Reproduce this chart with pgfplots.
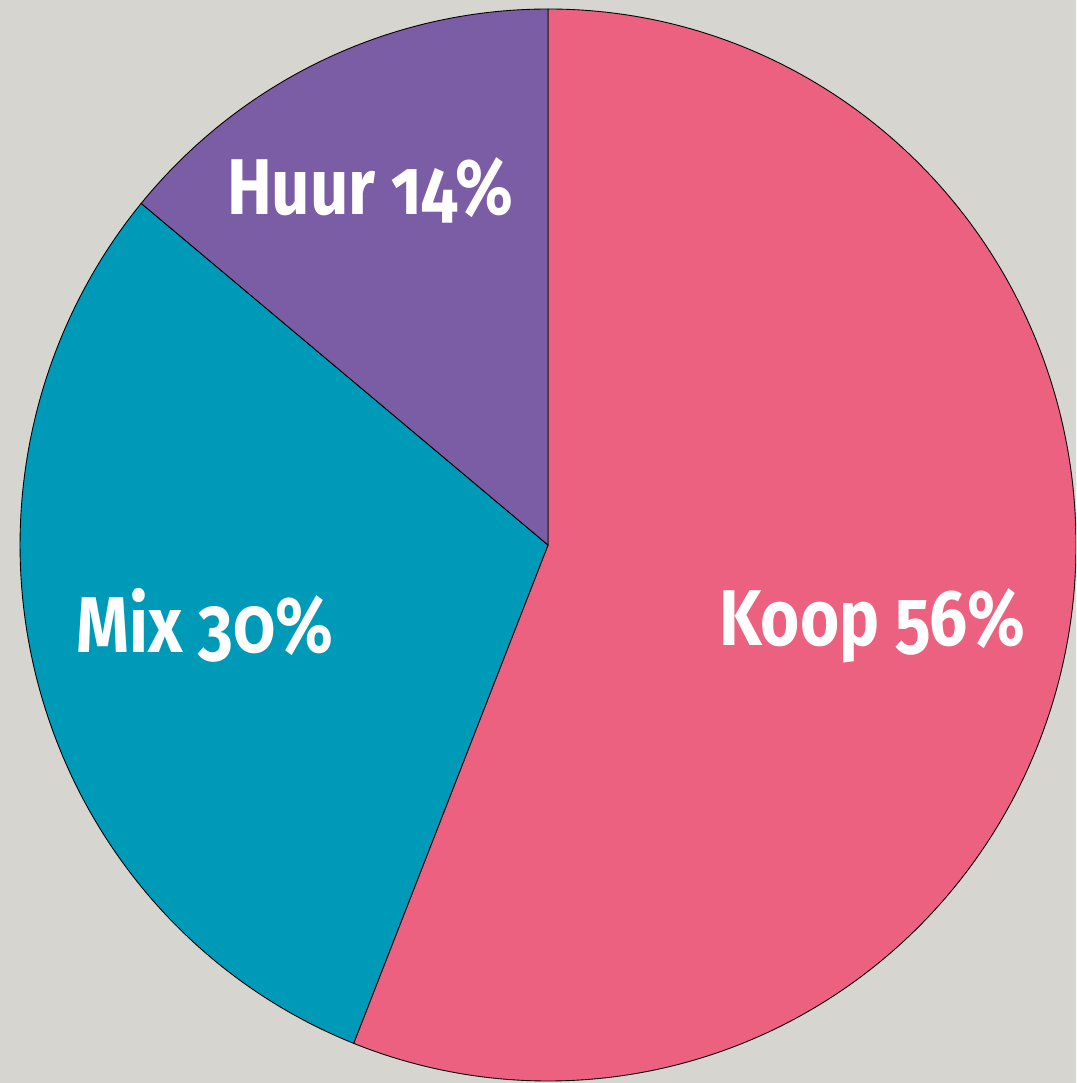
\documentclass[border=0pt]{standalone}
\usepackage{pgfplots}
\pgfplotsset{compat=1.18}
\usepackage{pgfplotstable}
\usepackage{fontspec}
\setmainfont{Fira Sans}[Numbers=OldStyle]
\definecolor{bg}{HTML}{D6D5D0}
\definecolor{koop}{HTML}{EC617F}
\definecolor{mix}{HTML}{009AB9}
\definecolor{huur}{HTML}{7B5DA6}

\pgfplotstableread{
label value colour
Koop 56 koop
Mix 30 mix
Huur 14 huur
}\piedata

\newcommand{\lbl}[1]{\scalebox{0.85}[1]{#1}}

\begin{document}
\begin{tikzpicture}
\def\RX{10.56cm}
\def\RY{10.72cm}
\begin{axis}[
  x=\RX, y=\RY,
  hide axis,
  xmin=-1.0379, xmax=1.0,
  ymin=-1.0037, ymax=1.0168,
  scale only axis,
]
\fill[bg] (axis cs:-1.1,-1.1) rectangle (axis cs:1.1,1.1);
\def\cum{0}
\pgfplotsforeachungrouped \i in {0,1,2}{%
  \pgfplotstablegetelem{\i}{value}\of\piedata
  \let\v\pgfplotsretval
  \pgfplotstablegetelem{\i}{colour}\of\piedata
  \let\c\pgfplotsretval
  \pgfmathsetmacro\sa{90-3.6*\cum}
  \pgfmathsetmacro\ea{\sa-3.6*\v}
  \pgfmathsetmacro\cum{\cum+\v}
  \edef\cmd{\noexpand\filldraw[fill=\c, draw=black, line width=0.5pt]
    (axis cs:0,0) -- (axis cs:{cos(\sa)},{sin(\sa)})
    arc[start angle=\sa, end angle=\ea, x radius=\RX, y radius=\RY] -- cycle;}
  \cmd
}
\tikzset{lab/.style={text=white, font=\fontsize{45}{50}\selectfont\bfseries}}
\node[lab] at (axis cs:0.614,-0.150) {\lbl{Koop 56\%}};
\node[lab] at (axis cs:-0.650,-0.150) {\lbl{Mix 30\%}};
\node[lab] at (axis cs:-0.337,0.662) {\lbl{Huur 14\%}};
\end{axis}
\end{tikzpicture}
\end{document}
